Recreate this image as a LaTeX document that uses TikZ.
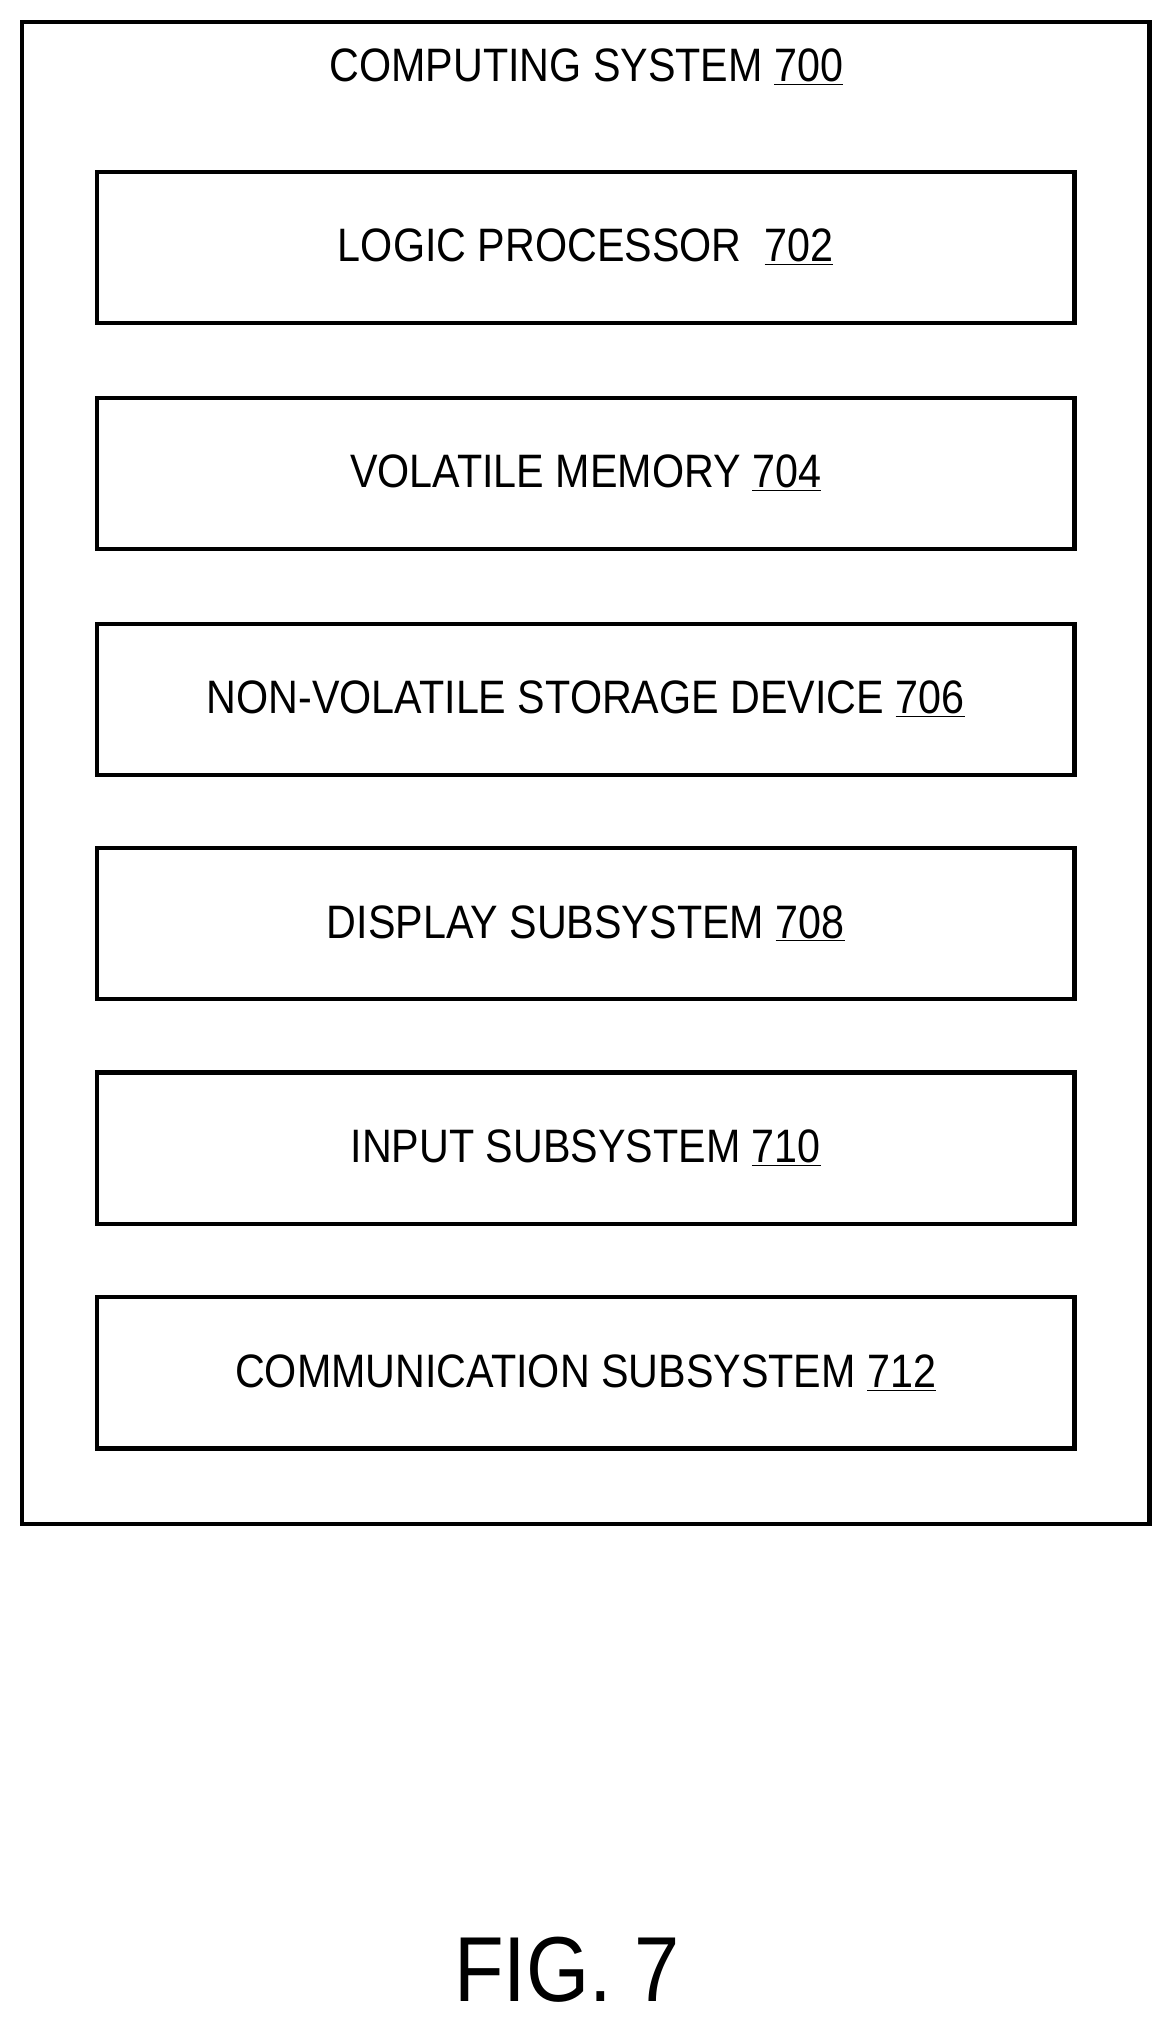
\documentclass[tikz,border=0pt]{standalone}
\usepackage{fontspec}
\setmainfont{Liberation Sans}[FakeStretch=0.88]
\newcommand{\refnum}[1]{\underline{#1}}
\begin{document}
\begin{tikzpicture}
            [x=0.03cm, y=-0.03cm,
            part/.style={draw, line width=2.8pt, minimum width=22.71cm, minimum height=3.51cm, inner sep=0pt, font=\fontsize{31}{36}\selectfont},
            frame/.style={draw, line width=2.8pt}]

            \useasboundingbox (0,0) rectangle (909,1568);

            % outer system box
            \draw[frame] (17,17) rectangle (890,1180);
            \node[font=\fontsize{31}{36}\selectfont] (sys) at (454,52) {COMPUTING SYSTEM \refnum{700}};

            \node[part] (lp) at (453.5,191.5) {LOGIC PROCESSOR~ \refnum{702}};
            \node[part] (vm) at (453.5,366.5) {VOLATILE MEMORY \refnum{704}};
            \node[part] (nv) at (453.5,541.5) {NON-VOLATILE STORAGE DEVICE \refnum{706}};
            \node[part] (ds) at (453.5,715) {DISPLAY SUBSYSTEM \refnum{708}};
            \node[part] (is) at (453.5,889) {INPUT SUBSYSTEM \refnum{710}};
            \node[part] (cs) at (453.5,1063) {COMMUNICATION SUBSYSTEM \refnum{712}};

            % figure label
            \node[font=\fontsize{61}{68}\selectfont] (fig) at (439,1525) {FIG. 7};

        \end{tikzpicture}
\end{document}
